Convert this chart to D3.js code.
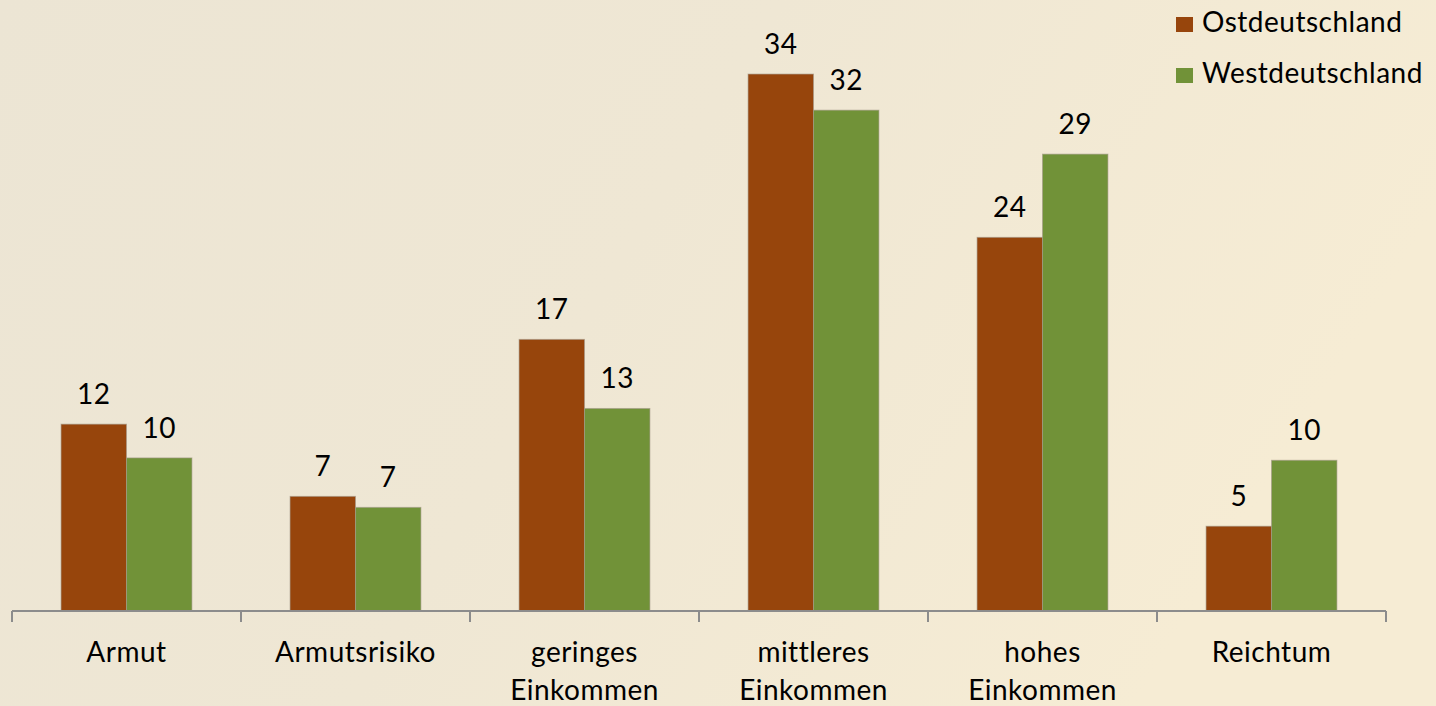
<!DOCTYPE html>
<html>
<head>
<meta charset="utf-8">
<script src="https://cdn.jsdelivr.net/npm/d3@7"></script>
<style>
    html, body { margin: 0; padding: 0; }
    body { width: 1436px; height: 706px; overflow: hidden; }
    text { font-family: Lato, "Open Sans", sans-serif; fill: #000; letter-spacing: 0.5px; }
</style>
</head>
<body>
<div id="barchart"></div>
<script>
var categories = [
    ["Armut"],
    ["Armutsrisiko"],
    ["geringes", "Einkommen"],
    ["mittleres", "Einkommen"],
    ["hohes", "Einkommen"],
    ["Reichtum"]
];
var seriesNames = ["Ostdeutschland", "Westdeutschland"];
var ostValues = [11.9, 7.3, 17.3, 34.2, 23.8, 5.4];
var westValues = [9.75, 6.6, 12.9, 31.9, 29.1, 9.6];
var colors = ["#97450c", "#719238"];

var w = 1436;
var h = 706;
var baseY = 611;

var svg = d3.select("#barchart")
    .append("svg")
    .attr("width", w)
    .attr("height", h);

// background gradient
var grad = svg.append("defs").append("linearGradient")
    .attr("id", "bg")
    .attr("x1", "0").attr("y1", "0").attr("x2", "1").attr("y2", "0.3");
grad.append("stop").attr("offset", "0").attr("stop-color", "#ece5d4");
grad.append("stop").attr("offset", "0.5").attr("stop-color", "#efe7d4");
grad.append("stop").attr("offset", "1").attr("stop-color", "#f6ecd4");
svg.append("rect")
    .attr("width", w).attr("height", h)
    .attr("fill", "url(#bg)");

var keys = categories.map(function (c) { return c.join(" "); });

var xscale = d3.scaleBand()
    .domain(keys)
    .range([12, 1386]);

var x1 = d3.scaleBand()
    .domain(seriesNames)
    .range([0, xscale.bandwidth()])
    .paddingOuter(0.75);

var hscale = d3.scaleLinear()
    .domain([0, 36])
    .range([baseY, baseY - 36 * 15.7]);

var rows = keys.map(function (k, i) {
    return { key: k, values: [ostValues[i], westValues[i]] };
});

var groups = svg.selectAll("g.cat")
    .data(rows)
    .enter().append("g")
    .attr("class", "cat")
    .attr("transform", function (d) { return "translate(" + xscale(d.key) + ",0)"; });

groups.selectAll("rect")
    .data(function (d) {
        return d.values.map(function (v, j) { return { s: seriesNames[j], v: v, j: j }; });
    })
    .enter().append("rect")
    .attr("x", function (d) { return x1(d.s); })
    .attr("y", function (d) { return hscale(d.v); })
    .attr("width", x1.bandwidth())
    .attr("height", function (d) { return baseY - hscale(d.v); })
    .attr("fill", function (d) { return colors[d.j]; })
    .attr("stroke", "#a39a8a")
    .attr("stroke-opacity", 0.6)
    .attr("stroke-width", 1);

groups.selectAll("text.val")
    .data(function (d) {
        return d.values.map(function (v, j) { return { s: seriesNames[j], v: v }; });
    })
    .enter().append("text")
    .attr("class", "val")
    .attr("x", function (d) { return x1(d.s) + x1.bandwidth() / 2; })
    .attr("y", function (d) { return hscale(d.v) - 20; })
    .attr("text-anchor", "middle")
    .style("font-size", "28px")
    .text(function (d) { return d3.format(".0f")(d.v); });

// x axis
var xaxis = d3.axisBottom(xscale)
    .tickSize(0)
    .tickFormat("");

var ax = svg.append("g")
    .attr("transform", "translate(0," + baseY + ")")
    .call(xaxis);
ax.select(".domain").remove();

ax.append("line")
    .attr("x1", 12).attr("x2", 1386)
    .attr("y1", 0).attr("y2", 0)
    .attr("stroke", "#8c8c8c")
    .attr("stroke-width", 2);

ax.selectAll("line.sep")
    .data(keys.concat([null]))
    .enter().append("line")
    .attr("class", "sep")
    .attr("x1", function (d) { return d === null ? 1386 : xscale(d); })
    .attr("x2", function (d) { return d === null ? 1386 : xscale(d); })
    .attr("y1", 0).attr("y2", 11)
    .attr("stroke", "#8c8c8c")
    .attr("stroke-width", 2);

ax.selectAll("text.cat")
    .data(categories)
    .enter().append("text")
    .attr("class", "cat")
    .attr("x", function (d, i) { return xscale(keys[i]) + xscale.bandwidth() / 2; })
    .attr("y", 51)
    .attr("text-anchor", "middle")
    .style("font-size", "28px")
    .each(function (d) {
        var t = d3.select(this);
        d.forEach(function (line, k) {
            t.append("tspan")
                .attr("x", t.attr("x"))
                .attr("dy", k === 0 ? 0 : 38)
                .text(line);
        });
    });

// legend
var legend = svg.selectAll("g.legend")
    .data(seriesNames)
    .enter().append("g")
    .attr("class", "legend")
    .attr("transform", function (d, i) { return "translate(1176," + (32 + i * 51) + ")"; });

legend.append("rect")
    .attr("x", 0).attr("y", -15)
    .attr("width", 17).attr("height", 15)
    .attr("fill", function (d, i) { return colors[i]; });

legend.append("text")
    .attr("x", 26).attr("y", 0)
    .style("font-size", "28px")
    .text(function (d) { return d; });
</script>
</body>
</html>
